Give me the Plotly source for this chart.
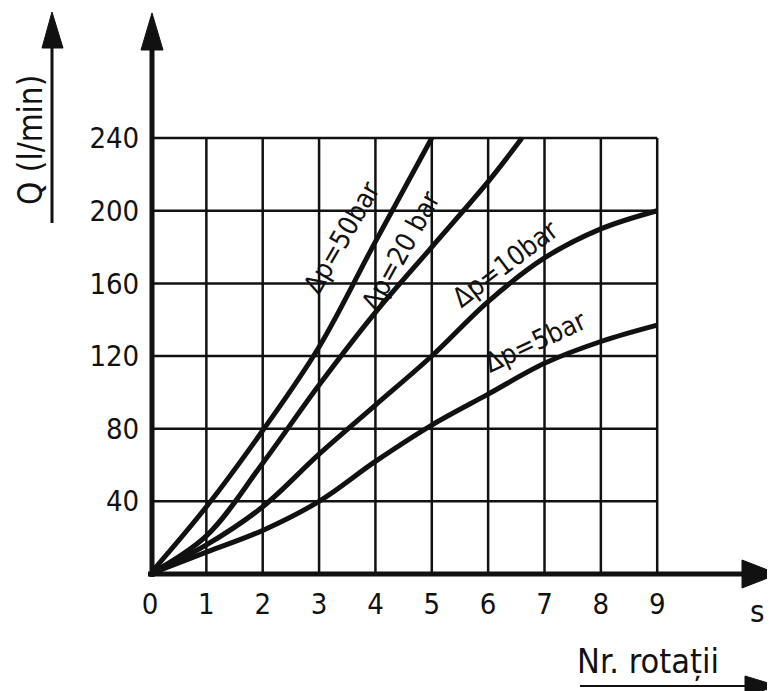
import plotly.graph_objects as go

# ---------------- data ----------------
x_ticks = [0, 1, 2, 3, 4, 5, 6, 7, 8, 9]
y_ticks = [40, 80, 120, 160, 200, 240]

x_50 = [0, 1, 2, 3, 4, 5]
q_50 = [0, 37, 79, 125, 183, 240]

x_20 = [0, 1, 2, 3, 4, 5, 6, 6.6]
q_20 = [0, 21, 61, 104, 144, 180, 216, 240]

x_10 = [0, 1, 2, 3, 4, 5, 6, 7, 8, 9]
q_10 = [0, 16, 37, 66, 93, 120, 150, 174, 190, 200]

x_5 = [0, 1, 2, 3, 4, 5, 6, 7, 8, 9]
q_5 = [0, 12, 24, 40, 62, 82, 99, 116, 128, 137]

series = [
    ("Δp=50bar", x_50, q_50),
    ("Δp=20bar", x_20, q_20),
    ("Δp=10bar", x_10, q_10),
    ("Δp=5bar", x_5, q_5),
]

# ---------------- layout geometry ----------------
OFF = 8                      # page body margin added by the html page
W, H = 775 - OFF, 691 - OFF  # figure size
# page pixel coords of the plot area
PL, PR, PT, PB = 150, 775, 20, 574
ML, MT = PL - OFF, PT - OFF
MR = (W + OFF) - PR
MB = (H + OFF) - PB
PW, PH = PR - PL, PB - PT
X_MAX = 11.09
Y_MAX = 305
INK = "#111111"
FONT = "DejaVu Sans Condensed, Liberation Sans Narrow, DejaVu Sans, sans-serif"


def P(px, py):
    """page pixel -> paper coords"""
    return (px - PL) / PW, (PB - py) / PH


def tri(p1, p2, p3):
    a, b, c = P(*p1), P(*p2), P(*p3)
    return f"M{a[0]},{a[1]} L{b[0]},{b[1]} L{c[0]},{c[1]} Z"


def seg(p1, p2, w):
    a, b = P(*p1), P(*p2)
    return dict(type="line", xref="paper", yref="paper", x0=a[0], y0=a[1],
                x1=b[0], y1=b[1], line=dict(color=INK, width=w))


fig = go.Figure()

for name, xs, ys in series:
    fig.add_trace(go.Scatter(
        x=xs, y=ys, mode="lines", name=name,
        line=dict(color=INK, width=5, shape="spline", smoothing=1.0),
        showlegend=False, hoverinfo="skip"))

shapes = []
# grid
for xv in x_ticks[1:]:
    shapes.append(dict(type="line", xref="x", yref="y", x0=xv, x1=xv,
                       y0=0, y1=max(y_ticks), line=dict(color=INK, width=2.5), layer="below"))
for yv in y_ticks:
    shapes.append(dict(type="line", xref="x", yref="y", x0=0, x1=max(x_ticks),
                       y0=yv, y1=yv, line=dict(color=INK, width=2.5), layer="below"))

# main axes (thick) with arrow heads
shapes.append(seg((148, 574), (752, 574), 5))
shapes.append(dict(type="path", xref="paper", yref="paper",
                   path=tri((742, 560), (778, 574), (742, 588)), fillcolor=INK, line=dict(color=INK, width=1)))
shapes.append(seg((152, 577), (152, 45), 5))
shapes.append(dict(type="path", xref="paper", yref="paper",
                   path=tri((141, 50), (152, 13), (163, 50)), fillcolor=INK, line=dict(color=INK, width=1)))

# side arrow for Q
shapes.append(seg((52, 223), (52, 45), 3))
shapes.append(dict(type="path", xref="paper", yref="paper",
                   path=tri((42, 48), (52, 12), (63, 48)), fillcolor=INK, line=dict(color=INK, width=1)))

# bottom arrow for Nr. rotatii
shapes.append(seg((580, 686), (748, 686), 2))
shapes.append(dict(type="path", xref="paper", yref="paper",
                   path=tri((745, 676), (778, 686), (745, 696)), fillcolor=INK, line=dict(color=INK, width=1)))

annotations = []
# curve labels
labels = [
    ("Δp=50bar", 3.40, 185, -60),
    ("Δp=20 bar", 4.45, 178, -61),
    ("Δp=10bar", 6.30, 171, -37),
    ("Δp=5bar", 6.83, 128, -25),
]
for txt, lx, ly, ang in labels:
    annotations.append(dict(x=lx, y=ly, xref="x", yref="y", text=txt, showarrow=False,
                            xanchor="center", yanchor="middle",
                            textangle=ang, font=dict(family=FONT, size=27, color=INK)))


def label(txt, px, py, size, ang=0):
    x, y = P(px, py)
    return dict(x=x, y=y, xref="paper", yref="paper", text=txt, showarrow=False,
                xanchor="center", yanchor="middle", textangle=ang,
                font=dict(family=FONT, size=size, color=INK))


annotations.append(label("Q (l/min)", 30, 140, 33, -90))
annotations.append(label("s", 757, 611, 31))
annotations.append(label("Nr. rotații", 648, 661, 34))

fig.update_layout(
    width=W, height=H,
    margin=dict(l=ML, r=MR, t=MT, b=MB, pad=0),
    paper_bgcolor="white", plot_bgcolor="white",
    shapes=shapes, annotations=annotations,
    xaxis=dict(range=[0, X_MAX], tickvals=x_ticks, ticktext=[str(v) for v in x_ticks],
               showgrid=False, zeroline=False, showline=False,
               ticks="outside", ticklen=4, tickcolor="rgba(0,0,0,0)",
               tickfont=dict(family=FONT, size=29, color=INK)),
    yaxis=dict(range=[0, Y_MAX], tickvals=y_ticks, ticktext=[str(v) for v in y_ticks],
               showgrid=False, zeroline=False, showline=False,
               ticks="outside", ticklen=4, tickcolor="rgba(0,0,0,0)",
               tickfont=dict(family=FONT, size=29, color=INK)),
)

fig.write_html("out.html")
